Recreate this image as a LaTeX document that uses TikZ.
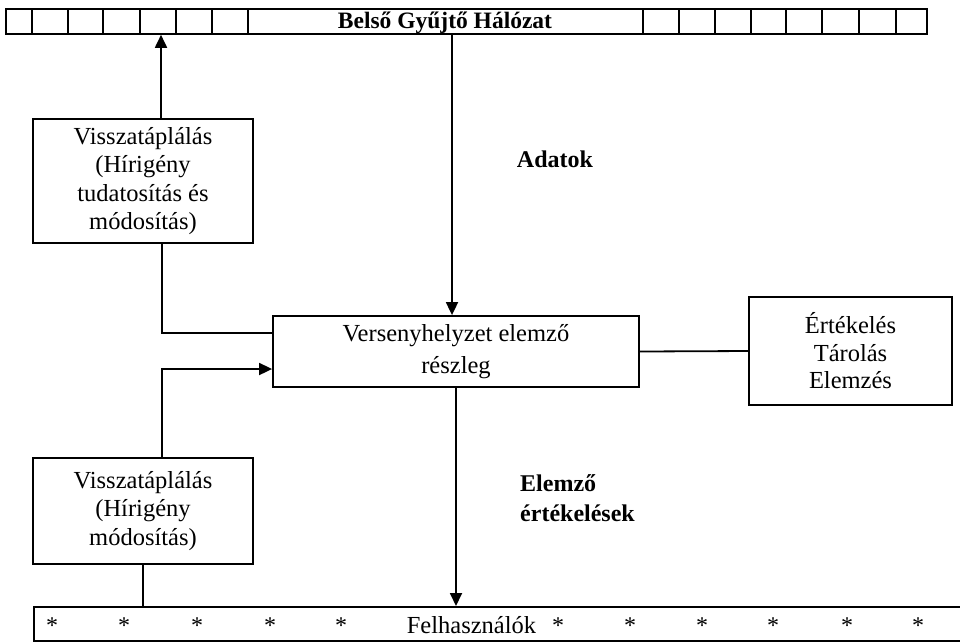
\documentclass[tikz,border=0pt]{standalone}
\usepackage{fontspec}
\setmainfont{Liberation Serif}
\usetikzlibrary{arrows.meta}
\begin{document}
\begin{tikzpicture}[x=1pt,y=-1pt,
  ln/.style={line width=1.8pt},
  arr/.style={ln,-{Triangle[length=13pt,width=12pt]}},
  boxx/.style={draw,line width=1.8pt,rectangle,inner sep=0pt,align=center,font=\fontsize{24.5}{28.5}\selectfont},
  lbl/.style={font=\fontsize{24}{30}\selectfont\bfseries,inner sep=0pt,align=left}
]
\clip (0,0) rectangle (960,641);
\useasboundingbox (0,0) rectangle (960,641);
% top bar
\node[draw,line width=1.8pt,minimum width=921pt,minimum height=25pt,inner sep=0pt,anchor=north west] (topbar) at (5,8) {};
\foreach \x in {32,68,103,140,176,212,248,643,679,715,751,786,822,859,896}
  \draw[ln] (\x,8) -- (\x,33);
\node[font=\fontsize{23.5}{25}\selectfont\bfseries,inner sep=0pt,anchor=base] (toptext) at (445,28) {Belső Gyűjtő Hálózat};
% bottom bar
\node[draw,line width=1.8pt,minimum width=940pt,minimum height=34pt,inner sep=0pt,anchor=north west] (botbar) at (33,606) {};
\foreach \x in {52,124,197,270,341,558,630,702,773,847,918}
  \node[font=\fontsize{24}{28}\selectfont,inner sep=0pt,anchor=base] at (\x,633) {*};
\node[font=\fontsize{24.5}{28}\selectfont,inner sep=0pt,anchor=base] (users) at (471.5,633) {Felhasználók};
% boxes
\node[boxx,minimum width=220pt,minimum height=124pt] (fb1) at (143,181) {Visszatáplálás\\(Hírigény\\tudatosítás és\\módosítás)};
\node[boxx,minimum width=220pt,minimum height=106pt] (fb2) at (143,511) {Visszatáplálás\\(Hírigény\\módosítás)};
\node[boxx,minimum width=366pt,minimum height=71pt,font=\fontsize{24.5}{32}\selectfont] (center) at (456,351.5) {Versenyhelyzet elemző\\részleg};
\node[boxx,minimum width=203pt,minimum height=108pt,font=\fontsize{24.5}{27.5}\selectfont] (right) at (850.5,351) {Értékelés\\Tárolás\\Elemzés};
% labels
\node[lbl,anchor=center] (adatok) at (555,159) {Adatok};
\node[lbl,anchor=west] (elemzo) at (520,498) {Elemző\\értékelések};
% connectors
\draw[arr] ([xshift=18pt]fb1.north) -- ([xshift=18pt]fb1.north |- topbar.south);
\draw[arr] ([xshift=-4pt]center.north |- topbar.south) -- ([xshift=-4pt]center.north);
\draw[ln] ([xshift=19pt]fb1.south) |- ([yshift=18.5pt]center.west);
\draw[arr] ([xshift=19pt]fb2.north) |- ([yshift=-17.5pt]center.west);
\draw[arr] (center.south) -- (center.south |- botbar.north);
\draw[ln] (fb2.south) -- (fb2.south |- botbar.north);
\draw[ln] (center.east) -- (right.west);
\end{tikzpicture}
\end{document}
